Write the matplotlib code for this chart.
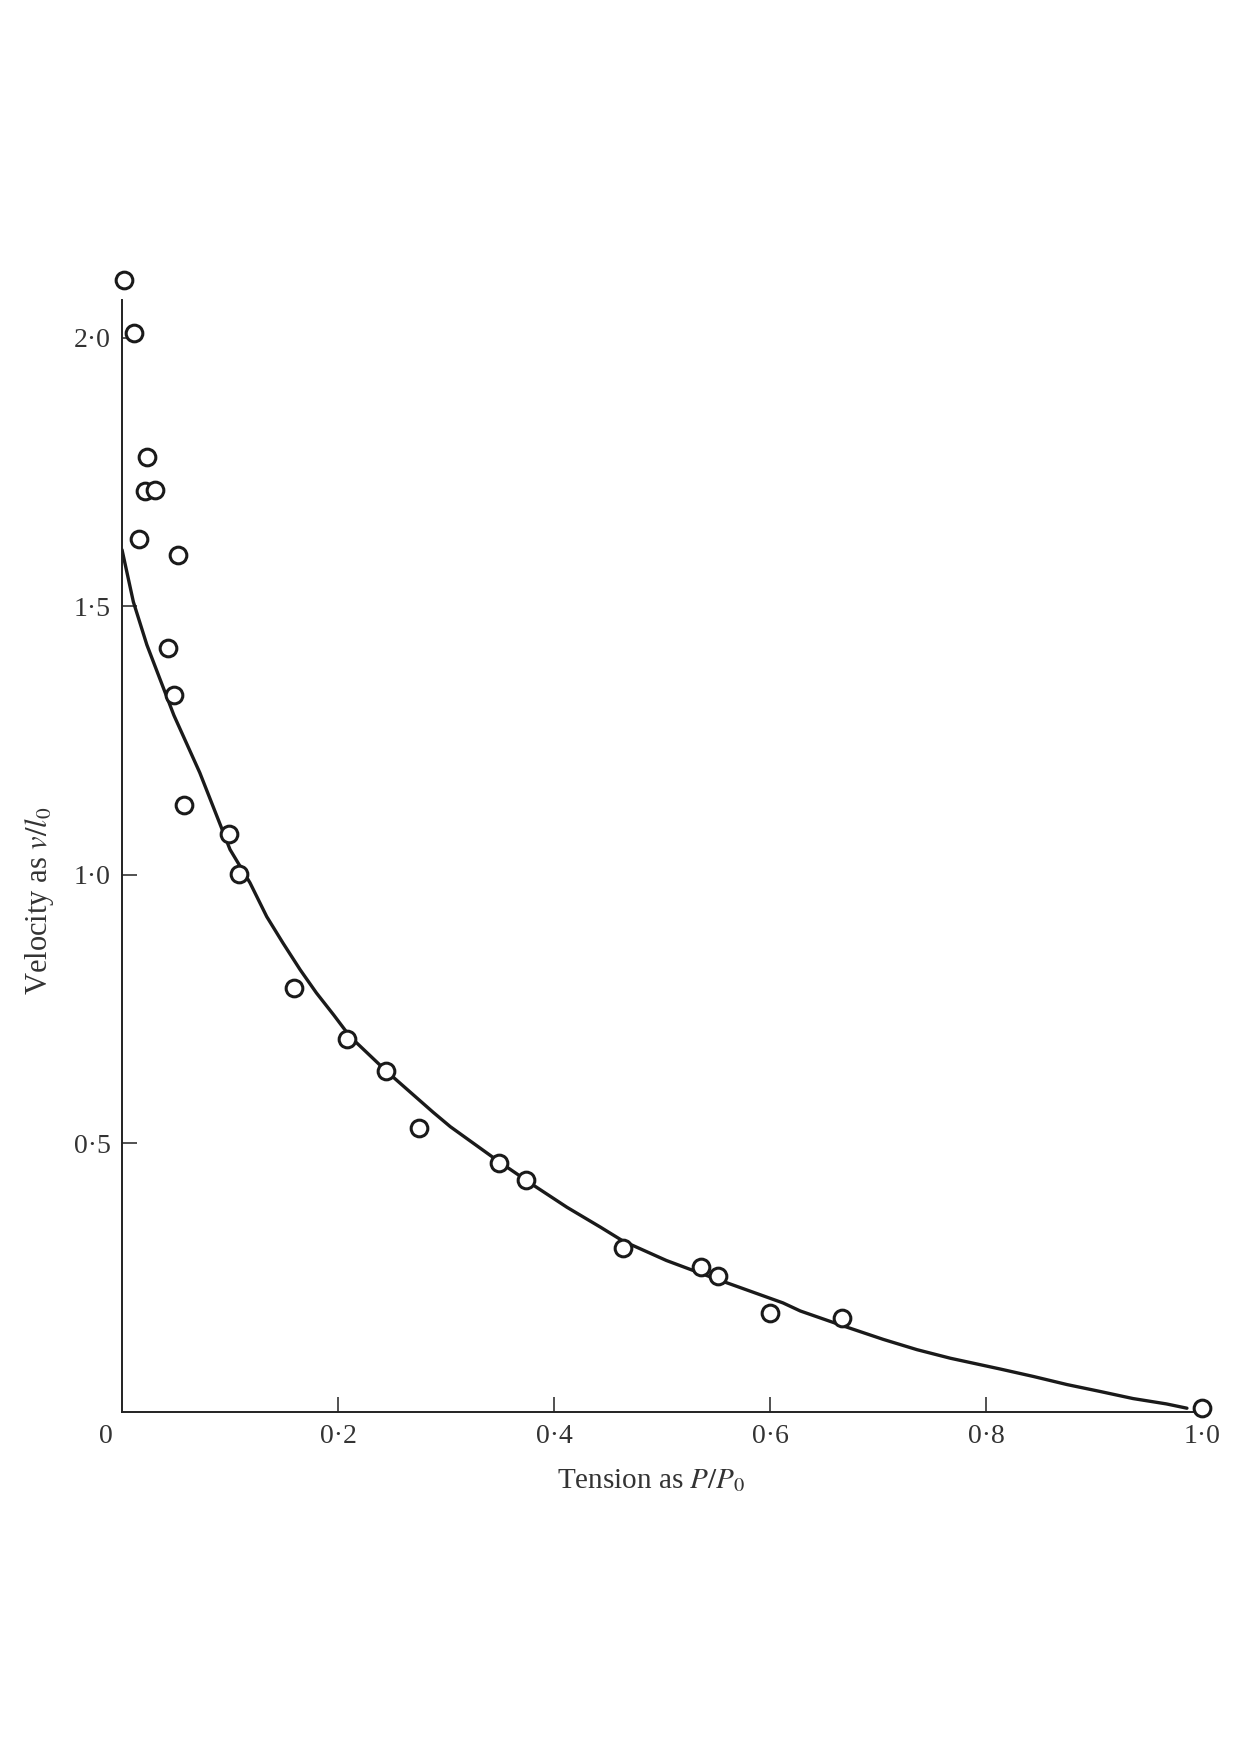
import matplotlib
matplotlib.use("Agg")
import matplotlib.pyplot as plt
from matplotlib.transforms import ScaledTranslation

plt.rcParams['font.family'] = ['Liberation Serif', 'DejaVu Serif']
plt.rcParams['mathtext.fontset'] = 'stix'

# measured points (P/P0, v/l0)
tension = [0.002, 0.011, 0.023, 0.021, 0.031, 0.016, 0.052, 0.043, 0.048, 0.057,
           0.099, 0.108, 0.159, 0.208, 0.244, 0.275, 0.349, 0.374, 0.464, 0.536,
           0.552, 0.600, 0.667, 1.000]
velocity = [2.108, 2.008, 1.777, 1.715, 1.717, 1.625, 1.596, 1.423, 1.335, 1.129,
            1.075, 1.002, 0.790, 0.694, 0.635, 0.529, 0.463, 0.431, 0.306, 0.269,
            0.254, 0.185, 0.175, 0.008]

# fitted curve
curve_x = [0.0, 0.0105, 0.023, 0.035, 0.048, 0.072, 0.100, 0.1185, 0.134, 0.149,
           0.165, 0.180, 0.196, 0.211, 0.245, 0.288, 0.304, 0.349, 0.381, 0.412,
           0.443, 0.464, 0.504, 0.544, 0.612, 0.628, 0.668, 0.705, 0.736, 0.767,
           0.813, 0.844, 0.875, 0.906, 0.936, 0.967, 0.986]
curve_y = [1.605, 1.508, 1.428, 1.365, 1.297, 1.190, 1.047, 0.985, 0.922, 0.873,
           0.823, 0.780, 0.739, 0.699, 0.634, 0.558, 0.531, 0.466, 0.422, 0.381,
           0.344, 0.318, 0.282, 0.252, 0.203, 0.188, 0.160, 0.135, 0.116, 0.100,
           0.080, 0.066, 0.051, 0.038, 0.025, 0.015, 0.007]

xticks = [0, 0.2, 0.4, 0.6, 0.8, 1.0]
xticklabels = ['0', '0·2', '0·4', '0·6', '0·8', '1·0']
yticks = [0.5, 1.0, 1.5, 2.0]
yticklabels = ['0·5', '1·0', '1·5', '2·0']

fig = plt.figure(figsize=(12.4, 17.54), dpi=100)
ax = fig.add_axes([0.0984, 0.195, 0.871, 0.634])

ax.plot(curve_x, curve_y, color='#1a1a1a', lw=2.4, solid_capstyle='round',
        solid_joinstyle='round', zorder=2)
ax.plot(tension, velocity, 'o', ms=12, mfc='white', mec='#1a1a1a', mew=2.2,
        clip_on=False, zorder=3)

ax.set_xlim(0, 1.0)
ax.set_ylim(0, 2.07)
for s in ['top', 'right']:
    ax.spines[s].set_visible(False)
for s in ['left', 'bottom']:
    ax.spines[s].set_linewidth(1.4)
    ax.spines[s].set_color('#222222')

ax.set_xticks(xticks)
ax.set_xticklabels(xticklabels)
ax.set_yticks(yticks)
ax.set_yticklabels(yticklabels)
ax.tick_params(axis='both', direction='in', length=11, width=1.1, colors='#222222',
               labelsize=20, labelcolor='#333333')
ax.tick_params(axis='y', pad=8)
ax.tick_params(axis='x', pad=9)

ticks = ax.xaxis.get_major_ticks()
ticks[0].tick1line.set_visible(False)
ticks[-1].tick1line.set_visible(False)
lbl0 = ax.get_xticklabels()[0]
lbl0.set_transform(lbl0.get_transform() + ScaledTranslation(-0.16, 0, fig.dpi_scale_trans))

ax.set_xlabel('Tension as $P/P_0$', fontsize=21, color='#333333')
ax.xaxis.set_label_coords(0.49, -0.05)
ax.set_ylabel('Velocity as $v/l_0$', fontsize=22, color='#333333')
ax.yaxis.set_label_coords(-0.061, 0.46)

fig.savefig('out.png', dpi=100)
